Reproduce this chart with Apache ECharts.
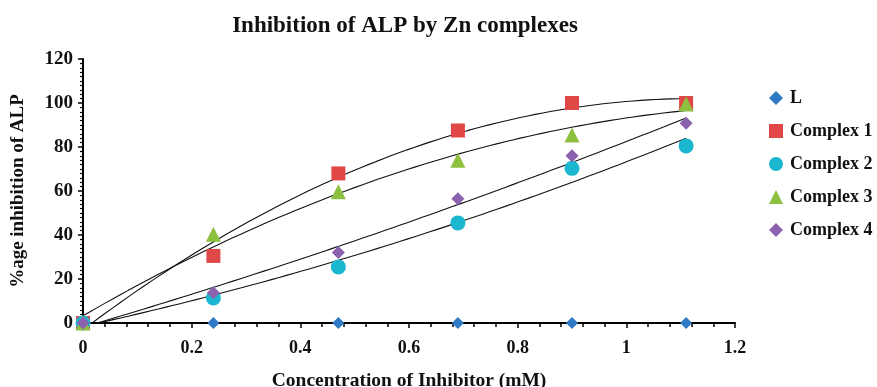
<!DOCTYPE html>
<html>
<head>
<meta charset="utf-8">
<script src="https://cdn.jsdelivr.net/npm/echarts@6/dist/echarts.min.js"></script>
<style>html,body{margin:0;padding:0;background:#fff;}#c{width:877px;height:387px;}</style>
</head>
<body>
<div id="c"></div>
<script>
var concentration = [0, 0.24, 0.47, 0.69, 0.9, 1.11];
var seriesNames = ['L', 'Complex 1', 'Complex 2', 'Complex 3', 'Complex 4'];
var valuesL = [0, 0, 0, 0, 0, 0];
var valuesC1 = [0, 30.5, 68, 87.5, 100, 100];
var valuesC2 = [0, 11.4, 25.5, 45.5, 70.3, 80.5];
var valuesC3 = [0, 40.3, 59.7, 74, 85.5, 99.5];
var valuesC4 = [0, 13.8, 32, 56.5, 76, 90.8];
var xTicks = [0, 0.2, 0.4, 0.6, 0.8, 1, 1.2];
var yTicks = [0, 20, 40, 60, 80, 100, 120];

var colors = ['#2f78c4', '#e04848', '#1bb6cf', '#8dc03f', '#8b62ae'];
var symbols = ['diamond', 'rect', 'circle', 'triangle', 'diamond'];
var sizes = [12, 14, 15, 15, 13];
var allValues = [valuesL, valuesC1, valuesC2, valuesC3, valuesC4];

// Excel-style polynomial (order 2) trendline, least squares fit of the data arrays
function quadFit(xs, ys) {
  var n = xs.length, s = [0,0,0,0,0], t = [0,0,0];
  for (var i = 0; i < n; i++) {
    var x = xs[i], y = ys[i], p = 1;
    for (var k = 0; k < 5; k++) { s[k] += p; if (k < 3) t[k] += p * y; p *= x; }
  }
  var A = [[s[0], s[1], s[2], t[0]], [s[1], s[2], s[3], t[1]], [s[2], s[3], s[4], t[2]]];
  for (var c = 0; c < 3; c++) {
    for (var r = c + 1; r < 3; r++) {
      var f = A[r][c] / A[c][c];
      for (var j = c; j < 4; j++) A[r][j] -= f * A[c][j];
    }
  }
  var b = [0,0,0];
  for (var r2 = 2; r2 >= 0; r2--) {
    var v = A[r2][3];
    for (var j2 = r2 + 1; j2 < 3; j2++) v -= A[r2][j2] * b[j2];
    b[r2] = v / A[r2][r2];
  }
  return b;
}

var font = "'Liberation Serif','DejaVu Serif',serif";
var series = [];
for (var i = 0; i < 5; i++) {
  series.push({
    name: seriesNames[i], type: 'scatter', symbol: symbols[i], symbolSize: sizes[i],
    itemStyle: { color: colors[i], opacity: 1 }, z: 3,
    data: concentration.map(function (x, k) { return [x, allValues[i][k]]; })
  });
}
for (var j = 1; j < 5; j++) {
  var b = quadFit(concentration, allValues[j]);
  var pts = [];
  var xmax = concentration[concentration.length - 1];
  for (var m = 0; m <= 80; m++) {
    var x = xmax * m / 80;
    pts.push([x, b[0] + b[1] * x + b[2] * x * x]);
  }
  series.push({
    name: seriesNames[j] + ' trend', type: 'line', data: pts, showSymbol: false, silent: true,
    clip: true, lineStyle: { color: '#111', width: 1.1 }, z: 2
  });
}

var chart = echarts.init(document.getElementById('c'));
chart.setOption({
  animation: false,
  title: { text: 'Inhibition of ALP by Zn complexes', left: 400, top: 10, textAlign: 'center',
    textStyle: { fontFamily: font, fontWeight: 'bold', fontSize: 23, color: '#111' } },
  legend: { data: seriesNames, orient: 'vertical', left: 764, top: 84, itemGap: 15,
    itemWidth: 14, itemHeight: 14,
    textStyle: { fontFamily: font, fontWeight: 'bold', fontSize: 18, color: '#111', padding: [0, 0, 0, 2] } },
  grid: { left: 83, right: 142, top: 59, bottom: 64, containLabel: false, outerBoundsMode: 'none' },
  xAxis: {
    type: 'value', min: xTicks[0], max: xTicks[xTicks.length - 1], interval: 0.2,
    name: 'Concentration of Inhibitor (mM)', nameLocation: 'middle', nameGap: 48,
    nameTextStyle: { fontFamily: font, fontWeight: 'bold', fontSize: 19.5, color: '#111', verticalAlign: 'top' },
    axisLine: { lineStyle: { color: '#000', width: 2 } },
    axisTick: { show: true, length: 5, lineStyle: { color: '#000', width: 1.5 } },
    minorTick: { show: true, splitNumber: 5, length: 4, lineStyle: { color: '#000', width: 1.5 } },
    splitLine: { show: false },
    axisLabel: { margin: 16, fontFamily: font, fontWeight: 'bold', fontSize: 18, color: '#111',
      formatter: function (v) { return String(+v.toFixed(1)); } }
  },
  yAxis: {
    type: 'value', min: yTicks[0], max: yTicks[yTicks.length - 1], interval: 20,
    name: '%age inhibition of ALP', nameLocation: 'middle', nameGap: 55,
    nameTextStyle: { fontFamily: font, fontWeight: 'bold', fontSize: 19, color: '#111' },
    axisLine: { show: true, lineStyle: { color: '#000', width: 2 } },
    axisTick: { show: true, length: 5, lineStyle: { color: '#000', width: 1.5 } },
    minorTick: { show: true, splitNumber: 10, length: 3, lineStyle: { color: '#000', width: 1.2 } },
    splitLine: { show: false },
    axisLabel: { margin: 10, fontFamily: font, fontWeight: 'bold', fontSize: 19, color: '#111' }
  },
  series: series
});
</script>
</body>
</html>
